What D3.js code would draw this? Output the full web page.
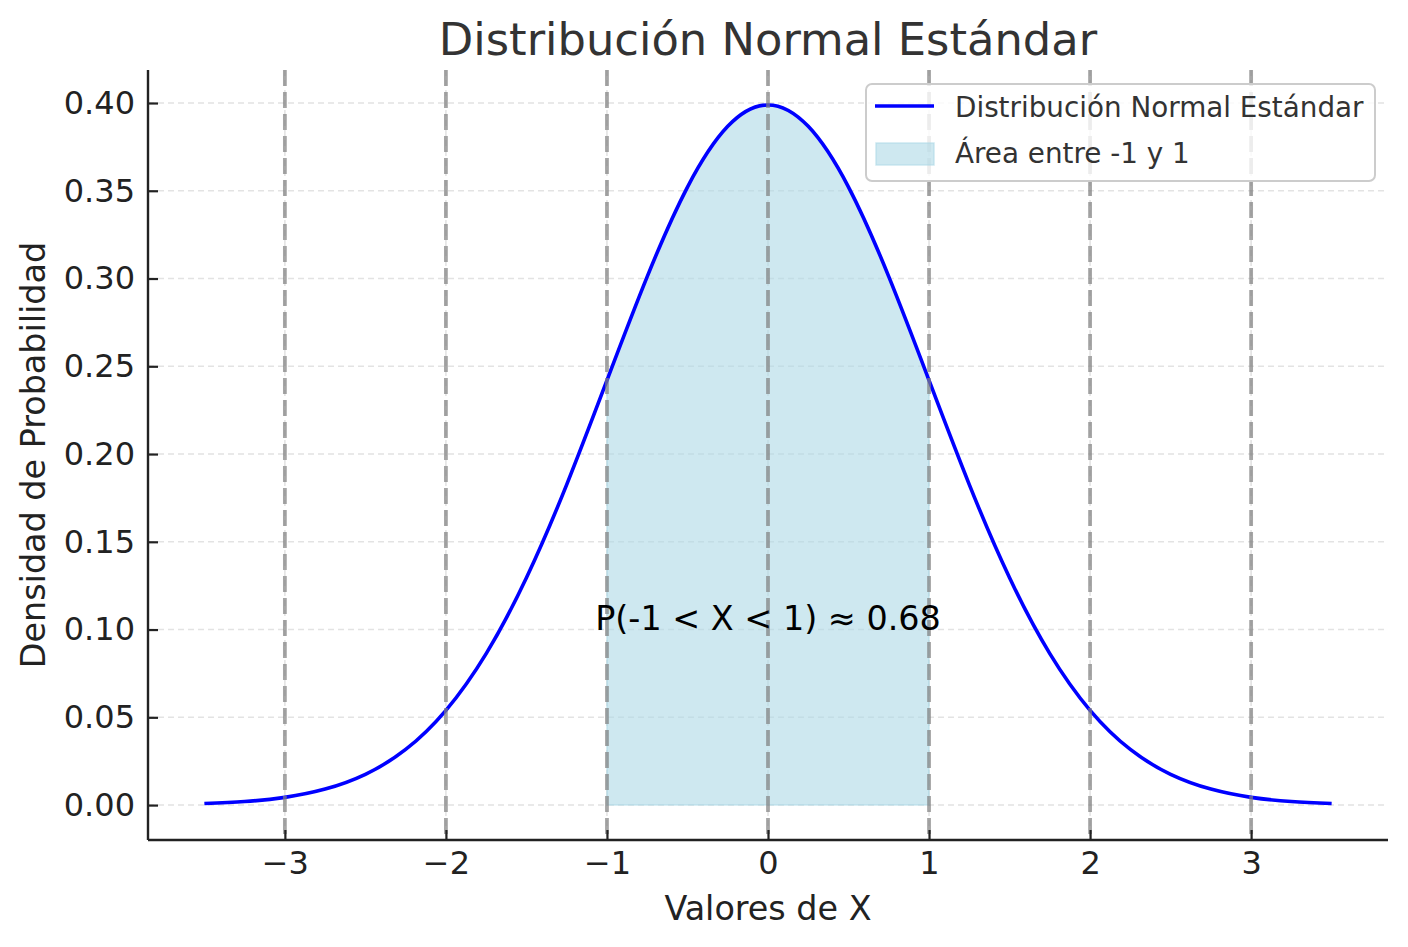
<!DOCTYPE html>
<html>
<head>
<meta charset="utf-8">
<script src="https://cdn.jsdelivr.net/npm/d3@7"></script>
<style>
  html, body { margin: 0; padding: 0; background: #fff; }
  svg { display: block; font-family: "DejaVu Sans", sans-serif; }
</style>
</head>
<body>
<svg id="grafico" width="1408" height="947"></svg>
<script>
// valores (densidad normal estándar)
const valoresX = [-3.5, -3.25, -3, -2.75, -2.5, -2.25, -2, -1.75, -1.5, -1.25, -1, -0.75, -0.5, -0.25,
  0, 0.25, 0.5, 0.75, 1, 1.25, 1.5, 1.75, 2, 2.25, 2.5, 2.75, 3, 3.25, 3.5];
const densidad = [0.0009, 0.0020, 0.0044, 0.0091, 0.0175, 0.0317, 0.0540, 0.0863, 0.1295, 0.1826, 0.2420, 0.3011, 0.3521, 0.3867,
  0.3989, 0.3867, 0.3521, 0.3011, 0.2420, 0.1826, 0.1295, 0.0863, 0.0540, 0.0317, 0.0175, 0.0091, 0.0044, 0.0020, 0.0009];
const limitesArea = [-1, 1];
const lineasVerticales = [-3, -2, -1, 0, 1, 2, 3];
const ticksX = [-3, -2, -1, 0, 1, 2, 3];
const ticksY = [0, 0.05, 0.10, 0.15, 0.20, 0.25, 0.30, 0.35, 0.40];
const dominioX = [-3.85, 3.85];
const dominioY = [-0.0199, 0.4188];
const anotacion = { x: 0, y: 0.10, texto: "P(-1 < X < 1) ≈ 0.68" };
const titulo = "Distribución Normal Estándar";
const etiquetaX = "Valores de X";
const etiquetaY = "Densidad de Probabilidad";
const leyenda = ["Distribución Normal Estándar", "Área entre -1 y 1"];

const W = 1408;
const H = 947;
const margin = { top: 70, right: 20, bottom: 107, left: 148 };
const plotW = W - margin.left - margin.right;
const plotH = H - margin.top - margin.bottom;

const puntos = valoresX.map((x, i) => ({ x, y: densidad[i] }));

const x = d3.scaleLinear().domain(dominioX).range([0, plotW]);
const y = d3.scaleLinear().domain(dominioY).range([plotH, 0]);

const svg = d3.select("#grafico");
const g = svg.append("g").attr("transform", `translate(${margin.left},${margin.top})`);

const estiloRejilla = (sel) => sel
  .attr("stroke", "#b0b0b0")
  .attr("stroke-opacity", 0.35)
  .attr("stroke-width", 1.6)
  .attr("stroke-dasharray", "6,4");

// rejilla
g.append("g")
  .selectAll("line")
  .data(ticksY)
  .join("line")
  .attr("x1", 0)
  .attr("x2", plotW)
  .attr("y1", (d) => y(d))
  .attr("y2", (d) => y(d))
  .call(estiloRejilla);

g.append("g")
  .selectAll("line")
  .data(ticksX)
  .join("line")
  .attr("x1", (d) => x(d))
  .attr("x2", (d) => x(d))
  .attr("y1", 0)
  .attr("y2", plotH)
  .call(estiloRejilla);

// área entre -1 y 1
const enArea = puntos.filter((d) => d.x >= limitesArea[0] && d.x <= limitesArea[1]);
g.append("path")
  .datum(enArea)
  .attr("d", d3.area().x((d) => x(d.x)).y0(y(0)).y1((d) => y(d.y)).curve(d3.curveNatural))
  .attr("fill", "#add8e6")
  .attr("fill-opacity", 0.6)
  .attr("stroke", "#add8e6")
  .attr("stroke-opacity", 0.6)
  .attr("stroke-width", 1.5);

// curva
g.append("path")
  .datum(puntos)
  .attr("d", d3.line().x((d) => x(d.x)).y((d) => y(d.y)).curve(d3.curveNatural))
  .attr("fill", "none")
  .attr("stroke", "#0000ff")
  .attr("stroke-width", 3.6);

// líneas verticales discontinuas
g.append("g")
  .selectAll("line")
  .data(lineasVerticales)
  .join("line")
  .attr("x1", (d) => x(d))
  .attr("x2", (d) => x(d))
  .attr("y1", 0)
  .attr("y2", plotH)
  .attr("stroke", "#808080")
  .attr("stroke-opacity", 0.7)
  .attr("stroke-width", 3.8)
  .attr("stroke-dasharray", "16,6");

// ejes
const fmtX = (d) => (d < 0 ? "\u2212" + Math.abs(d) : String(d));

g.append("g")
  .attr("transform", `translate(0,${plotH})`)
  .call(d3.axisBottom(x).tickValues(ticksX).tickFormat(fmtX).tickSize(-10).tickPadding(11))
  .call((sel) => sel.select(".domain").attr("stroke", "#222").attr("stroke-width", 2.4).attr("d", `M0,0H${plotW}`))
  .call((sel) => sel.selectAll(".tick line").attr("stroke", "#222").attr("stroke-width", 2.2))
  .call((sel) => sel.selectAll("text").attr("fill", "#222").attr("font-size", "32px").attr("font-family", "DejaVu Sans"));

g.append("g")
  .call(d3.axisLeft(y).tickValues(ticksY).tickFormat(d3.format(".2f")).tickSize(-10).tickPadding(13))
  .call((sel) => sel.select(".domain").attr("stroke", "#222").attr("stroke-width", 2.4).attr("d", `M0,${plotH}V0`))
  .call((sel) => sel.selectAll(".tick line").attr("stroke", "#222").attr("stroke-width", 2.2))
  .call((sel) => sel.selectAll("text").attr("fill", "#222").attr("font-size", "32px").attr("font-family", "DejaVu Sans"));

// anotación
g.append("text")
  .attr("x", x(anotacion.x))
  .attr("y", y(anotacion.y))
  .attr("text-anchor", "middle")
  .attr("font-size", "33.4px")
  .attr("fill", "#000")
  .text(anotacion.texto);

// títulos
svg.append("text")
  .attr("x", margin.left + plotW / 2)
  .attr("y", 55)
  .attr("text-anchor", "middle")
  .attr("font-size", "44.8px")
  .attr("fill", "#333")
  .text(titulo);

svg.append("text")
  .attr("x", margin.left + plotW / 2)
  .attr("y", 920)
  .attr("text-anchor", "middle")
  .attr("font-size", "33.4px")
  .attr("fill", "#222")
  .text(etiquetaX);

svg.append("text")
  .attr("transform", `translate(45,${margin.top + plotH / 2}) rotate(-90)`)
  .attr("text-anchor", "middle")
  .attr("font-size", "33.4px")
  .attr("fill", "#222")
  .text(etiquetaY);

// leyenda
const ley = svg.append("g").attr("transform", "translate(866,84)");
ley.append("rect")
  .attr("width", 509)
  .attr("height", 97)
  .attr("rx", 6)
  .attr("fill", "#fff")
  .attr("fill-opacity", 0.8)
  .attr("stroke", "#cccccc")
  .attr("stroke-width", 2);
ley.append("line")
  .attr("x1", 9).attr("x2", 68)
  .attr("y1", 22).attr("y2", 22)
  .attr("stroke", "#0000ff")
  .attr("stroke-width", 3.6);
ley.append("rect")
  .attr("x", 10).attr("y", 59)
  .attr("width", 58).attr("height", 22)
  .attr("fill", "#add8e6").attr("fill-opacity", 0.6)
  .attr("stroke", "#add8e6").attr("stroke-opacity", 0.6).attr("stroke-width", 1.5);
ley.selectAll("text.item")
  .data(leyenda)
  .join("text")
  .attr("class", "item")
  .attr("x", 89)
  .attr("y", (d, i) => 33 + i * 46)
  .attr("font-size", "27.8px")
  .attr("fill", "#333")
  .text((d) => d);
</script>
</body>
</html>
